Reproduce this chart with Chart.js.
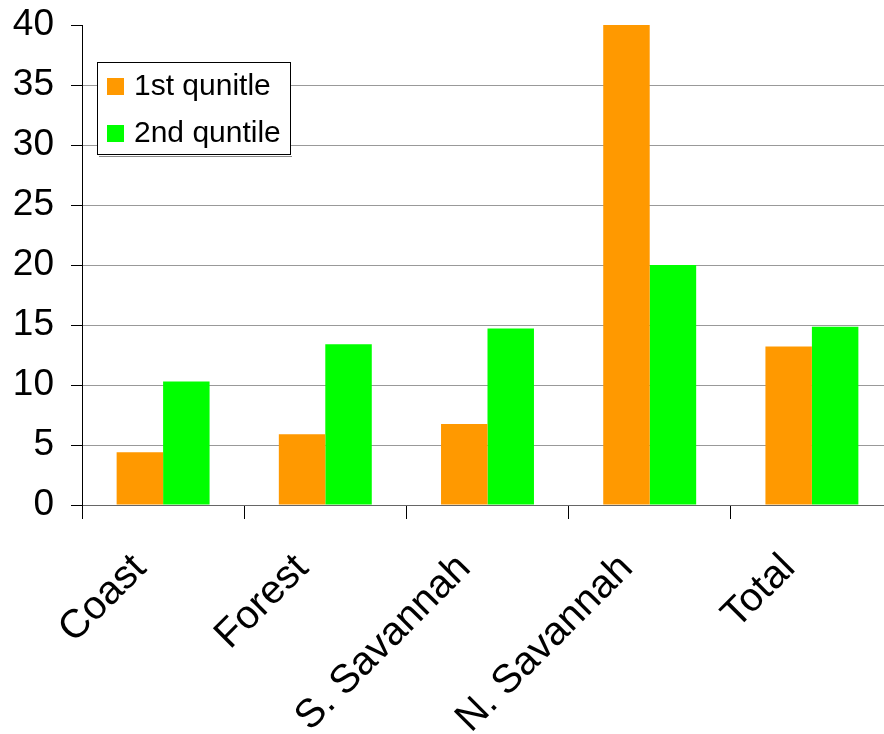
<!DOCTYPE html>
<html>
<head>
<meta charset="utf-8">
<script src="https://cdn.jsdelivr.net/npm/chart.js@4"></script>
<style>
html, body { margin: 0; padding: 0; background: #fff; overflow: hidden; }
#wrap { width: 900px; height: 734px; }
</style>
</head>
<body>
<div id="wrap"><canvas id="regionChart"></canvas></div>
<script>
// chart values
const regions = ['Coast', 'Forest', 'S. Savannah', 'N. Savannah', 'Total'];
const firstQuintile = [4.4, 5.9, 6.75, 40, 13.2];
const secondQuintile = [10.3, 13.4, 14.7, 20, 14.85];
const seriesNames = ['1st qunitle', '2nd quntile'];
const yTicks = [0, 5, 10, 15, 20, 25, 30, 35, 40];

const FONT = 'Arial, "Liberation Sans", sans-serif';

// legend box drawn inside the plot, like the original
const boxLegend = {
  id: 'boxLegend',
  afterDraw(chart) {
    const ctx = chart.ctx;
    ctx.save();
    ctx.fillStyle = '#ffffff';
    ctx.fillRect(97, 62, 194, 93);
    ctx.strokeStyle = '#000';
    ctx.lineWidth = 1;
    ctx.strokeRect(97.5, 62.5, 193, 92);
    ctx.strokeStyle = '#888';
    ctx.beginPath();
    ctx.moveTo(99, 156.5);
    ctx.lineTo(292, 156.5);
    ctx.stroke();
    ctx.font = '30px ' + FONT;
    ctx.textBaseline = 'middle';
    chart.data.datasets.forEach(function(ds, i) {
      const y = 78 + i * 47;
      ctx.fillStyle = ds.backgroundColor;
      ctx.fillRect(107, y, 17, 17);
      ctx.fillStyle = '#000';
      ctx.fillText(ds.label, 134, y + 9);
    });
    ctx.restore();
  }
};

const ctx = document.getElementById('regionChart').getContext('2d');
const regionChart = new Chart(ctx, {
  type: 'bar',
  data: {
    labels: regions,
    datasets: [{
      label: seriesNames[0],
      data: firstQuintile,
      backgroundColor: '#FF9900',
      categoryPercentage: 0.573,
      barPercentage: 1
    }, {
      label: seriesNames[1],
      data: secondQuintile,
      backgroundColor: '#00FF00',
      categoryPercentage: 0.573,
      barPercentage: 1
    }]
  },
  options: {
    responsive: true,
    maintainAspectRatio: false,
    animation: false,
    layout: { padding: { top: 25, right: 7, left: 0, bottom: 0 } },
    plugins: {
      legend: { display: false },
      tooltip: { enabled: false }
    },
    scales: {
      x: {
        afterFit: function(scale) {
          scale.height = 229;
          scale.paddingLeft = 0;
          scale.paddingRight = 0;
        },
        border: { color: '#666', width: 1 },
        grid: {
          offset: true,
          drawOnChartArea: false,
          drawTicks: true,
          tickLength: 14,
          tickColor: '#000'
        },
        ticks: {
          color: '#000',
          font: { family: FONT, size: 40 },
          minRotation: 45,
          maxRotation: 45,
          autoSkip: false,
          padding: 26,
          labelOffset: -23
        }
      },
      y: {
        min: 0,
        max: 40,
        afterFit: function(scale) {
          scale.width = 82;
          scale.paddingTop = 0;
          scale.paddingBottom = 0;
        },
        afterBuildTicks: function(scale) {
          scale.ticks = yTicks.map(function(v) { return { value: v }; });
        },
        border: { color: '#000', width: 1 },
        grid: {
          color: function(c) {
            return (c.tick && (c.tick.value === 40 || c.tick.value === 0)) ? 'rgba(0,0,0,0)' : '#999';
          },
          lineWidth: 1,
          tickLength: 11,
          tickColor: '#000'
        },
        ticks: {
          color: '#000',
          font: { family: FONT, size: 37 },
          padding: 17
        }
      }
    }
  },
  plugins: [boxLegend]
});
</script>
</body>
</html>
